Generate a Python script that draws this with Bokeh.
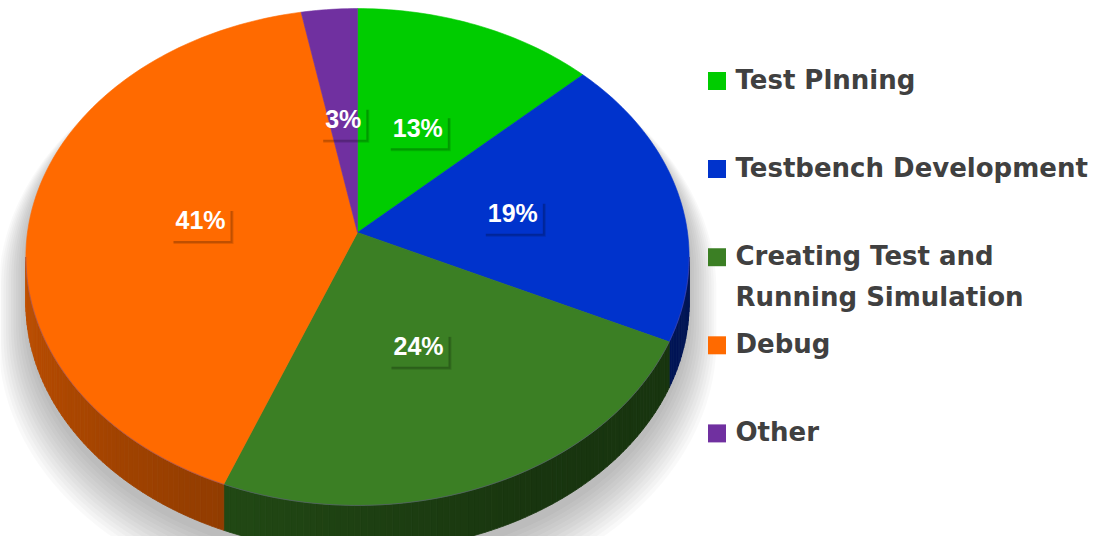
import numpy as np
from bokeh.plotting import figure
from bokeh.models import ColumnDataSource, Range1d
from bokeh.core.properties import value
from bokeh.embed import file_html
from bokeh.resources import INLINE

# ---------------- data ----------------
categories = ["Test Plnning", "Testbench Development",
              "Creating Test and\nRunning Simulation", "Debug", "Other"]
shares = [13, 19, 24, 41, 3]
colors = ["#00CC00", "#0033CC", "#3B7F24", "#FF6A00", "#7030A0"]

# ---------------- layout constants (reference pixel space) ----------------
W, H = 1091, 536
CX, CY = 357.0, 232.0      # pie centre on screen
RB, RA = 330.0, 246.0      # horizontal / vertical radius factors
K = 0.0986                 # perspective factor
DEPTH = 46.0               # thickness of the pie
LABEL_R = 0.48


def fx(X):
    return np.asarray(X, dtype=float)


def fy(Y):
    return H - np.asarray(Y, dtype=float)


def proj(theta_deg, f=1.0, depth=0.0):
    t = np.radians(theta_deg)
    u, s = np.cos(t), np.sin(t)
    d = 1 + K * f * u
    return CX + f * RB * s / d, CY - f * RA * u / d + depth


def shade(hexcol, k):
    h = hexcol.lstrip("#")
    r, g, b = (int(h[i:i + 2], 16) for i in (0, 2, 4))
    return "#%02x%02x%02x" % (int(r * k), int(g * k), int(b * k))


total = float(sum(shares))
ends = np.cumsum([s / total * 360.0 for s in shares])
starts = np.concatenate([[0.0], ends[:-1]])

TH_R = np.degrees(np.arccos(-K))
TH_L = 360.0 - TH_R

p = figure(width=W, height=H, output_backend="svg", toolbar_location=None,
           x_range=Range1d(0, W), y_range=Range1d(0, H),
           x_axis_location=None, y_axis_location=None, min_border=0)
p.grid.visible = False
p.outline_line_color = None
p.background_fill_color = "white"

# ---------------- soft shadow ----------------
back = np.linspace(TH_L, TH_R + 360.0, 120)
front = np.linspace(TH_R, TH_L, 120)
bx, by = proj(back)
fxp, fyp = proj(front, depth=DEPTH)
silx = np.concatenate([bx, fxp])
sily = np.concatenate([by, fyp])
sh_xs, sh_ys = [], []
for i in range(12):
    sc = 1.0 + 0.0075 * i
    sh_xs.append(fx(CX + (silx - CX) * sc))
    sh_ys.append(fy(180 + (sily - 180) * sc + 10 + 1.6 * i))
p.patches(sh_xs, sh_ys, fill_color="black", fill_alpha=0.022, line_color=None)

# ---------------- sides ----------------
side_xs, side_ys, side_cols = [], [], []
for a, b, c in zip(starts, ends, colors):
    lo, hi = max(a, TH_R), min(b, TH_L)
    if lo >= hi:
        continue
    n = max(2, int((hi - lo) / 1.0) + 1)
    th = np.linspace(lo, hi, n)
    for t0, t1 in zip(th[:-1], th[1:]):
        x0, y0 = proj(t0)
        x1, y1 = proj(t1)
        xs = [x0, x1, x1, x0]
        ys = [y0, y1, y1 + DEPTH, y0 + DEPTH]
        tm = 0.5 * (t0 + t1)
        k = 0.42 + 0.34 * max(0.0, tm - 150.0) / (TH_L - 150.0)
        side_xs.append(fx(xs))
        side_ys.append(fy(ys))
        side_cols.append(shade(c, k))
p.patches(side_xs, side_ys, fill_color=side_cols, line_color=side_cols, line_width=0.8)

# ---------------- top faces ----------------
top_xs, top_ys = [], []
for a, b in zip(starts, ends):
    th = np.linspace(a, b, max(3, int(b - a) + 2))
    x, y = proj(th)
    top_xs.append(fx(np.concatenate([[CX], x])))
    top_ys.append(fy(np.concatenate([[CY], y])))
p.patches(top_xs, top_ys, fill_color=colors, line_color=colors, line_width=0.6)

rx, ry = proj(np.linspace(TH_R, TH_L, 200))
p.line(fx(rx), fy(ry), line_color="#6a4f9e", line_alpha=0.45, line_width=1)

# ---------------- data labels ----------------
mids = 0.5 * (starts + ends)
lx, ly = proj(mids, f=LABEL_R)
labels = ["%d%%" % s for s in shares]
FS = 25
cw = {"%": 0.889}
tw = np.array([sum(cw.get(ch, 0.556) for ch in t) * FS for t in labels])
bw = tw + 10
bh = 33.0
bcx = lx
bcy = ly + 3
left, right = bcx - bw / 2, bcx + bw / 2
top, bottom = bcy - bh / 2, bcy + bh / 2
for off, al in ((3.0, 0.12), (2.0, 0.14)):
    p.quad(left=fx(right), right=fx(right + off), top=fy(top + 3), bottom=fy(bottom + off),
           fill_color="black", fill_alpha=al, line_color=None)
    p.quad(left=fx(left + 3), right=fx(right), top=fy(bottom), bottom=fy(bottom + off),
           fill_color="black", fill_alpha=al, line_color=None)
p.text(x=fx(lx), y=fy(ly - 1), text=labels, text_color="white",
       text_font=value("Liberation Sans"), text_font_style="bold",
       text_font_size="%dpx" % FS, text_align="center", text_baseline="middle")

# ---------------- legend ----------------
ROW0, ROWSTEP, LINESTEP = 79.0, 88.1, 41.0   # cap-centre of first line per row
leg_txt, leg_tx, leg_ty = [], [], []
sq_y = []
for i, cat in enumerate(categories):
    mid = ROW0 + i * ROWSTEP
    sq_y.append(mid + 1.5)
    for j, line in enumerate(cat.split("\n")):
        leg_txt.append(line)
        leg_tx.append(735.0)
        leg_ty.append(mid + j * LINESTEP)
p.rect(x=fx([716.5] * len(categories)), y=fy(sq_y), width=18, height=18,
       fill_color=colors, line_color=None)
p.text(x=fx(leg_tx), y=fy(leg_ty), text=leg_txt, text_color="#404040",
       text_font=value("DejaVu Sans"), text_font_style="bold", text_font_size="26px",
       text_align="left", text_baseline="middle")

open("out.html", "w").write(file_html(p, INLINE))
